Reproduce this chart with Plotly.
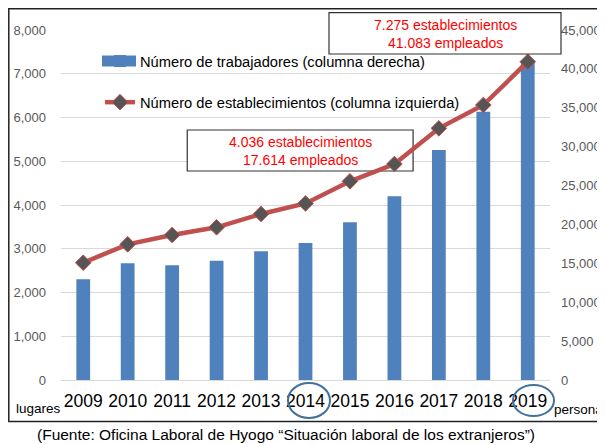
import plotly.graph_objects as go

years = ["2009", "2010", "2011", "2012", "2013", "2014", "2015", "2016", "2017", "2018", "2019"]
trabajadores = [12950, 15000, 14750, 15340, 16540, 17614, 20270, 23620, 29570, 34500, 41083]
establecimientos = [2681, 3101, 3314, 3490, 3794, 4036, 4541, 4937, 5752, 6286, 7275]

# the page puts the figure 8px in from the top-left corner
OFF = 8
W, H = 605 - OFF, 444 - OFF
# plot area in page pixels
L, R, T, B = 61, 550, 30, 380

BLUE = "#4F81BD"
RED = "#C0504D"
GRID = "#D9D9D9"
TICK = "#595959"
FONT = "Liberation Sans, Arial, sans-serif"


def px(x):
    return (x - L) / (R - L)


def py(y):
    return (B - y) / (B - T)


def label(text, x, y, size, color="black", xanchor="center"):
    return dict(text=text, xref="paper", yref="paper", x=px(x), y=py(y),
                xanchor=xanchor, yanchor="middle", showarrow=False,
                font=dict(size=size, color=color))


fig = go.Figure()
fig.add_trace(go.Bar(
    x=years, y=trabajadores, yaxis="y",
    name="Número de trabajadores (columna derecha)",
    marker=dict(color=BLUE, line=dict(width=0)),
    legendgroup="a",
))
fig.add_trace(go.Scatter(
    x=years, y=establecimientos, yaxis="y2", mode="lines+markers",
    name="Número de establecimientos (columna izquierda)",
    line=dict(color=RED, width=4.5),
    marker=dict(symbol="diamond", size=12, color="#555555", line=dict(color=RED, width=1)),
    legendgroup="b",
))

shapes = [
    # outer frame
    dict(type="rect", xref="paper", yref="paper", x0=px(8.8), x1=px(640), y0=py(421.5), y1=py(8.8),
         line=dict(color="#222222", width=1.5), fillcolor="rgba(0,0,0,0)", layer="above"),
    # box 2014 (below the line)
    dict(type="rect", xref="x", yref="y", x0=2.34, x1=7.42, y0=26870, y1=32140,
         line=dict(color="#333333", width=1.2), fillcolor="white", layer="between"),
    # box 2019
    dict(type="rect", xref="paper", yref="paper", x0=px(329), x1=px(561), y0=py(54), y1=py(12.7),
         line=dict(color="#333333", width=1.2), fillcolor="white", layer="above"),
    # wider swatch behind the bar legend symbol
    dict(type="rect", xref="paper", yref="paper", x0=px(102), x1=px(136), y0=py(66.5), y1=py(55.5),
         line=dict(width=0), fillcolor=BLUE, layer="above"),
    # ellipses around tick labels
    dict(type="circle", xref="paper", yref="paper", x0=px(288), x1=px(330), y0=py(418), y1=py(383),
         line=dict(color="#41719C", width=2)),
    dict(type="circle", xref="paper", yref="paper", x0=px(513), x1=px(554), y0=py(416), y1=py(385),
         line=dict(color="#41719C", width=2)),
]

annotations = [
    label("4.036 establecimientos<br>17.614 empleados", 300, 151, 14, "#FF0000"),
    label("7.275 establecimientos<br>41.083 empleados", 445, 34, 14, "#FF0000"),
    label("lugares", 38, 408, 13.5),
    label("personas", 552, 410, 13.5, xanchor="left"),
    label("(Fuente: Oficina Laboral de Hyogo “Situación laboral de los extranjeros”)", 286, 435, 15.5),
]

fig.update_layout(
    width=W, height=H,
    margin=dict(l=L - OFF, r=W - (R - OFF), t=T - OFF, b=H - (B - OFF), pad=0),
    paper_bgcolor="white", plot_bgcolor="white",
    font=dict(family=FONT, color="black"),
    bargap=0.69,
    xaxis=dict(type="category", range=[-0.5, len(years) - 0.5], tickfont=dict(size=17.5, color="black"),
               showgrid=False, ticks="", showline=True, linecolor=GRID, linewidth=1,
               ticklabelstandoff=5, automargin=False),
    yaxis=dict(side="right", range=[0, 45000], dtick=5000, tickformat=",d", showgrid=False,
               zeroline=False, tickfont=dict(size=13, color=TICK), ticklabelstandoff=10,
               automargin=False),
    yaxis2=dict(side="left", overlaying="y", range=[0, 8000], dtick=1000, tickformat=",d",
                showgrid=True, gridcolor=GRID, gridwidth=1, zeroline=False,
                tickfont=dict(size=13, color=TICK), ticklabelstandoff=14, automargin=False),
    legend=dict(x=px(100), y=py(45), xanchor="left", yanchor="top", traceorder="grouped",
                tracegroupgap=19, font=dict(size=14.7, color="black"), bgcolor="rgba(0,0,0,0)"),
    shapes=shapes,
    annotations=annotations,
)

fig.write_html("out.html")
